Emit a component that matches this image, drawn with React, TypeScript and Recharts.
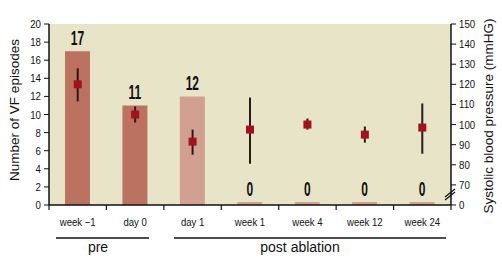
import React from 'react';
import {
  ComposedChart, Bar, Scatter, ErrorBar, XAxis, YAxis, Cell, LabelList, Customized,
} from 'recharts';

const categories = ['week \u22121', 'day 0', 'day 1', 'week 1', 'week 4', 'week 12', 'week 24'];
const vfEpisodes = [17, 11, 12, 0, 0, 0, 0];
const bpMean = [120, 105, 91.5, 97.5, 100, 95, 98.5];
const bpLow = [111.5, 101, 85, 80.5, 97.5, 91, 85.5];
const bpHigh = [128, 109, 97.5, 113.5, 103, 99, 110.5];
const leftTicks = [0, 2, 4, 6, 8, 10, 12, 14, 16, 18, 20];
const rightTicks = [60, 70, 80, 90, 100, 110, 120, 130, 140, 150];
const rightTickLabels: Record<number, string> = { 60: '0' };
const groups = [
  { label: 'pre', x1: 56, x2: 149, tx: 98 },
  { label: 'post ablation', x1: 174, x2: 446, tx: 300 },
];

const data = categories.map((c, i) => ({
  name: c,
  vf: vfEpisodes[i],
  bp: bpMean[i],
  bpErr: [bpMean[i] - bpLow[i], bpHigh[i] - bpMean[i]],
}));

const BEIGE = '#e8e4c8';
const DARK_BAR = '#bb7260';
const LIGHT_BAR = '#d1a090';
const MARKER = '#a0121c';
const INK = '#111';
const SANS = "'Liberation Sans', Arial, sans-serif";

const PLOT = { left: 49, right: 451, top: 24, bottom: 205 };

const CondText = ({ x, y, anchor, size, sx, weight, children }: any) => (
  <text
    transform={`translate(${x},${y}) scale(${sx},1)`}
    textAnchor={anchor}
    fontFamily={SANS}
    fontSize={size}
    fontWeight={weight || 'normal'}
    fill={INK}
  >
    {children}
  </text>
);

const XTick = (props: any) => {
  const { x, payload, index } = props;
  const band = (PLOT.right - PLOT.left) / categories.length;
  return (
    <g>
      <line x1={x - band / 2} x2={x - band / 2} y1={PLOT.bottom} y2={PLOT.bottom + 5} stroke={INK} strokeWidth={1.2} />
      {index === categories.length - 1 && (
        <line x1={x + band / 2} x2={x + band / 2} y1={PLOT.bottom} y2={PLOT.bottom + 5} stroke={INK} strokeWidth={1.2} />
      )}
      <CondText x={x} y={226} anchor="middle" size={11} sx={0.87}>{payload.value}</CondText>
    </g>
  );
};

const LeftTick = (props: any) => {
  const { x, y, payload } = props;
  return <CondText x={x - 1} y={y + 4} anchor="end" size={11} sx={0.88}>{payload.value}</CondText>;
};

const RightTick = (props: any) => {
  const { x, y, payload } = props;
  const v = payload.value as number;
  return <CondText x={x + 1} y={y + 4} anchor="start" size={11} sx={0.88}>{rightTickLabels[v] ?? String(v)}</CondText>;
};

const BarLabel = (props: any) => {
  const { x, y, width, value } = props;
  return (
    <CondText x={x + width / 2} y={y - 6} anchor="middle" size={20} sx={0.6} weight="bold">
      {value}
    </CondText>
  );
};

const SquareMarker = (props: any) => {
  const { cx, cy } = props;
  if (cx == null || cy == null) return null;
  return <rect x={cx - 4} y={cy - 4} width={8} height={8} fill={MARKER} />;
};

const Decorations = () => (
  <g>
    <rect x={PLOT.left} y={PLOT.top} width={PLOT.right - PLOT.left} height={PLOT.bottom - PLOT.top} fill={BEIGE} />
  </g>
);

const Overlay = () => (
  <g>
    <text transform="translate(14,110) rotate(-90)" textAnchor="middle" dominantBaseline="central" fontFamily={SANS} fontSize={13.5} fill={INK}>
      Number of VF episodes
    </text>
    <text transform="translate(488,116) rotate(-90)" textAnchor="middle" dominantBaseline="central" fontFamily={SANS} fontSize={13.5} fill={INK}>
      Systolic blood pressure (mmHG)
    </text>
    <line x1={445} y1={197} x2={455} y2={189} stroke={INK} strokeWidth={1.2} />
    <line x1={445} y1={200} x2={455} y2={192} stroke={INK} strokeWidth={1.2} />
    {groups.map((g) => (
      <g key={g.label}>
        <line x1={g.x1} x2={g.x2} y1={238} y2={238} stroke={INK} strokeWidth={1.5} />
        <text x={g.tx} y={252} textAnchor="middle" fontFamily={SANS} fontSize={14} fill={INK}>
          {g.label}
        </text>
      </g>
    ))}
  </g>
);

export default function App() {
  return (
    <div style={{ position: 'absolute', left: 0, top: 0, background: '#fff' }}>
      <ComposedChart
        width={502}
        height={260}
        data={data}
        margin={{ top: 24, right: 0, left: 0, bottom: 25 }}
        barSize={25}
      >
        <Customized component={Decorations} />
        <XAxis
          dataKey="name"
          height={30}
          tickLine={false}
          axisLine={{ stroke: INK, strokeWidth: 1.5 }}
          tick={<XTick />}
          interval={0}
        />
        <YAxis
          yAxisId="vf"
          width={49}
          domain={[0, 20]}
          ticks={leftTicks}
          interval={0}
          axisLine={{ stroke: INK, strokeWidth: 1.5 }}
          tickLine={{ stroke: INK }}
          tickSize={5}
          tick={<LeftTick />}
        />
        <YAxis
          yAxisId="bp"
          orientation="right"
          width={51}
          domain={[60, 150]}
          ticks={rightTicks}
          interval={0}
          axisLine={{ stroke: INK, strokeWidth: 1.5 }}
          tickLine={{ stroke: INK }}
          tickSize={5}
          tick={<RightTick />}
        />
        <Bar yAxisId="vf" dataKey="vf" minPointSize={3} isAnimationActive={false}>
          {data.map((d, i) => (
            <Cell key={d.name} fill={i < 2 ? DARK_BAR : LIGHT_BAR} />
          ))}
          <LabelList dataKey="vf" content={<BarLabel />} />
        </Bar>
        <Scatter yAxisId="bp" dataKey="bp" shape={<SquareMarker />} isAnimationActive={false}>
          <ErrorBar dataKey="bpErr" width={0} stroke="#2a1a1a" strokeWidth={2} direction="y" />
        </Scatter>
        <Customized component={Overlay} />
      </ComposedChart>
    </div>
  );
}
